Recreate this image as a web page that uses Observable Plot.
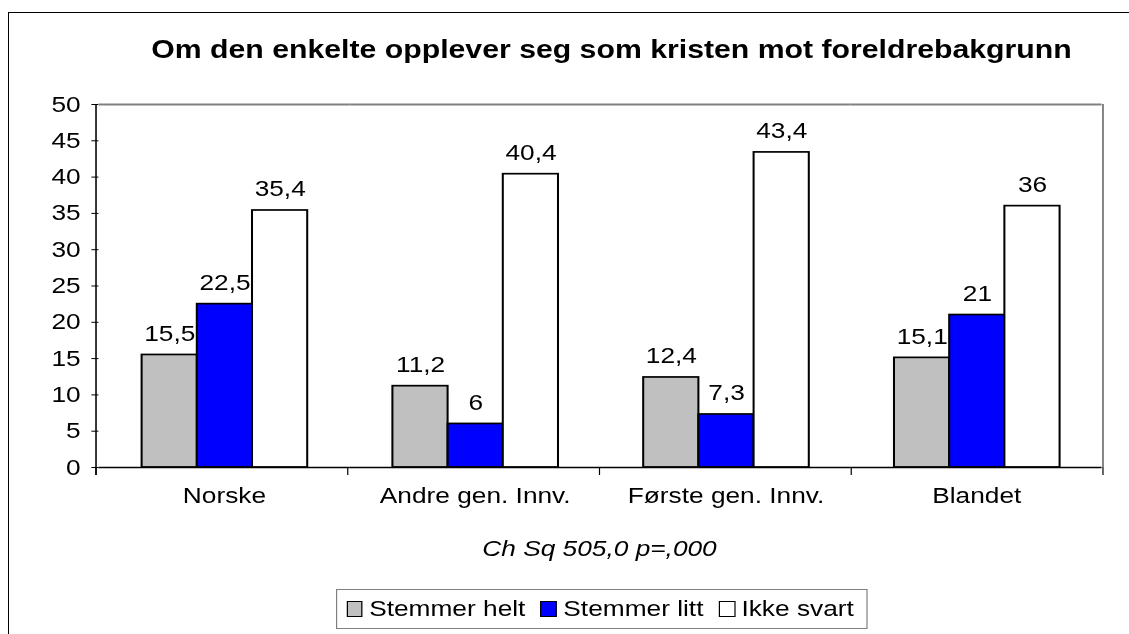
<!DOCTYPE html>
<html>
<head>
<meta charset="utf-8">
<script src="https://cdn.jsdelivr.net/npm/d3@7"></script>
<script src="https://cdn.jsdelivr.net/npm/@observablehq/plot@0.6"></script>
<style>
html, body { margin:0; padding:0; background:#fff; }
body { width:1129px; height:634px; overflow:hidden; position:relative; font-family:"Liberation Sans", Arial, sans-serif; color:#000; }
#frame { position:absolute; left:8px; top:12px; width:1300px; height:800px; border:1px solid #000; }
#stage { position:absolute; left:0; top:0; height:634px; transform-origin:0 0; }
#title { position:absolute; top:36.7px; left:0; width:1019.2px; text-align:center; font-weight:bold; font-size:25.2px; line-height:25.2px; white-space:nowrap; }
#caption { position:absolute; top:537.5px; left:0; width:999.2px; text-align:center; font-style:italic; font-size:21.9px; line-height:21.9px; white-space:nowrap; }
#legend { position:absolute; top:589px; left:280px; width:442.5px; height:40px; box-sizing:border-box; border:1px solid #808080; display:flex; align-items:center; padding-left:7.5px; font-size:21.9px; line-height:21.9px; white-space:nowrap; }
.item { display:flex; align-items:center; margin-right:12.5px; }
.sw { width:13.9px; height:16.7px; box-sizing:border-box; border:1.6px solid #000; margin-right:5.25px; }
#chart { position:absolute; left:0; top:0; }
</style>
</head>
<body>
<div id="frame"></div>
<div id="stage">
  <div id="title"></div>
  <div id="chart"></div>
  <div id="caption"></div>
  <div id="legend"></div>
</div>
<script>
const titleText = "Om den enkelte opplever seg som kristen mot foreldrebakgrunn";
const captionText = "Ch Sq 505,0 p=,000";
const categories = ["Norske", "Andre gen. Innv.", "Første gen. Innv.", "Blandet"];
const seriesNames = ["Stemmer helt", "Stemmer litt", "Ikke svart"];
const stemmerHelt = [15.5, 11.2, 12.4, 15.1];
const stemmerLitt = [22.5, 6, 7.3, 21];
const ikkeSvart = [35.4, 40.4, 43.4, 36];
const seriesColors = ["#C0C0C0", "#0000FF", "#FFFFFF"];
const yTicks = [0, 5, 10, 15, 20, 25, 30, 35, 40, 45, 50];

const seriesValues = [stemmerHelt, stemmerLitt, ikkeSvart];
const rows = categories.flatMap((c, i) =>
  seriesNames.map((s, j) => ({category: c, series: s, value: seriesValues[j][i]})));
const fmt = v => String(v).replace(".", ",");

// the reference image is stretched horizontally
const S = 1.2;
const W = 1129 / S;
const FS = 21.9;
const stage = document.getElementById("stage");
stage.style.width = W + "px";
stage.style.transform = `scaleX(${S})`;

document.getElementById("title").textContent = titleText;
document.getElementById("caption").textContent = captionText;

const plot = Plot.plot({
  width: W,
  height: 520,
  marginTop: 104,
  marginBottom: 53,
  marginLeft: 96 / S,
  marginRight: W - 1103 / S,
  style: {fontFamily: '"Liberation Sans", Arial, sans-serif', fontSize: FS + "px", color: "#000", background: "transparent", overflow: "visible"},
  fx: {domain: categories, padding: 0, label: null},
  x: {domain: seriesNames, paddingInner: 0, paddingOuter: 0.75, axis: null},
  y: {domain: [0, 50], label: null},
  color: {domain: seriesNames, range: seriesColors},
  marks: [
    Plot.axisY({ticks: yTicks, tickSize: 7 / S, tickPadding: 12 / S - 0.5, fontSize: FS, label: null, tickFormat: d => String(d)}),
    Plot.axisFx({anchor: "bottom", tickSize: 0, tickPadding: 20, fontSize: FS, label: null}),
    Plot.ruleY([50], {stroke: "#808080", strokeWidth: 2}),
    Plot.text(rows, {fx: "category", x: "series", y: "value", text: d => fmt(d.value), lineAnchor: "bottom", dy: -14, fontSize: FS, fill: "#000"}),
    Plot.barY(rows, {fx: "category", x: "series", y: "value", fill: "series", stroke: "#000", strokeWidth: 1.7}),
    Plot.ruleY([0], {stroke: "#000", strokeWidth: 1.5})
  ]
});
document.getElementById("chart").appendChild(plot);

// plot-area frame lines and category boundary ticks, from the library's scales
const fx = plot.scale("fx");
const y = plot.scale("y");
const r = fx.range;
const step = (r[1] - r[0]) / categories.length;
const bounds = d3.range(categories.length + 1).map(i => r[0] + i * step);
const y0 = y.apply(0), yTop = y.apply(50);
const svg = d3.select(plot);
svg.append("line").attr("x1", bounds[bounds.length - 1]).attr("x2", bounds[bounds.length - 1])
  .attr("y1", yTop).attr("y2", y0).attr("stroke", "#808080").attr("stroke-width", 1.6);
svg.append("line").attr("x1", bounds[0]).attr("x2", bounds[0])
  .attr("y1", yTop).attr("y2", y0 + 8).attr("stroke", "#000").attr("stroke-width", 1.3);
svg.append("g").selectAll("line").data(bounds).join("line")
  .attr("x1", d => d).attr("x2", d => d).attr("y1", y0).attr("y2", y0 + 8)
  .attr("stroke", "#000").attr("stroke-width", 1);

// legend
const legend = d3.select("#legend");
seriesNames.forEach((s, i) => {
  const it = legend.append("div").attr("class", "item");
  it.append("div").attr("class", "sw").style("background", seriesColors[i]);
  it.append("span").text(s);
});
</script>
</body>
</html>
